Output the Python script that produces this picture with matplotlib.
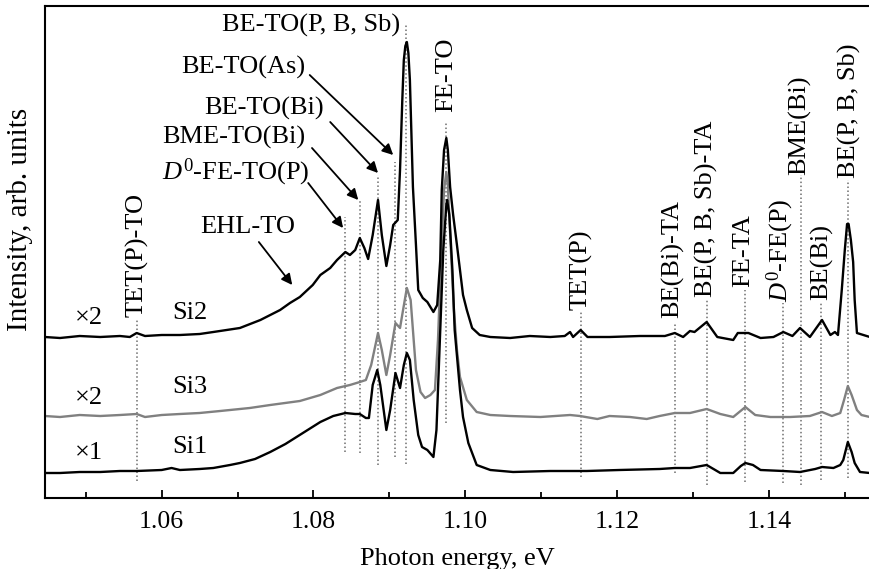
import matplotlib
matplotlib.use("Agg")
import matplotlib.pyplot as plt
from matplotlib.ticker import MultipleLocator

plt.rcParams['font.family'] = ['Liberation Serif', 'DejaVu Serif']
plt.rcParams['mathtext.fontset'] = 'custom'
plt.rcParams['mathtext.rm'] = 'Liberation Serif'
plt.rcParams['mathtext.it'] = 'Liberation Serif:italic'

# ---------------- data (photon energy, eV ; intensity, arb. units) ----------------
si2_E = [1.0446, 1.0466, 1.0492, 1.0519, 1.0545, 1.0558, 1.0567, 1.0578, 1.0600, 1.0624,
         1.0650, 1.0668, 1.0703, 1.0730, 1.0756, 1.0769, 1.0782, 1.0799, 1.0809, 1.0822,
         1.0831, 1.0842, 1.0848, 1.0855, 1.0861, 1.0867, 1.0872, 1.0878, 1.0885, 1.0890,
         1.0896, 1.0901, 1.0905, 1.0911, 1.0914, 1.0917, 1.0919, 1.0921, 1.0923, 1.0925,
         1.0927, 1.0931,
         1.0935, 1.0938, 1.0944, 1.0950, 1.0958, 1.0963, 1.0967, 1.0969, 1.0972, 1.0975,
         1.0977, 1.0980, 1.0984, 1.0989, 1.0997, 1.1002, 1.1009, 1.1019, 1.1033, 1.1059,
         1.1085, 1.1112, 1.1131, 1.1138, 1.1142, 1.1152, 1.1161, 1.1190, 1.1230, 1.1263,
         1.1276, 1.1287, 1.1296, 1.1302, 1.1318, 1.1332, 1.1353, 1.1359, 1.1373, 1.1389,
         1.1406, 1.1419, 1.1431, 1.1441, 1.1454, 1.1470, 1.1481, 1.1487, 1.1491, 1.1496,
         1.1500, 1.1503, 1.1505, 1.1508, 1.1511, 1.1513, 1.1516, 1.1533]
si2_I = [161, 160, 162, 161, 162, 161, 165, 162, 163, 163,
         164, 166, 170, 178, 188, 195, 201, 213, 223, 230,
         238, 246, 243, 248, 260, 250, 239, 263, 298, 263,
         232, 253, 273, 278, 328, 398, 438, 452, 456, 445,
         418, 311,
         253, 208, 200, 196, 186, 193, 238, 308, 348, 360,
         348, 311, 283, 253, 203, 188, 170, 163, 161, 160,
         162, 161, 162, 166, 161, 168, 161, 161, 162, 162,
         165, 161, 167, 166, 176, 161, 158, 165, 165, 160,
         161, 166, 162, 170, 161, 178, 163, 166, 163, 208,
         248, 274, 274, 258, 236, 198, 165, 161]

si3_E = [1.0446, 1.0466, 1.0492, 1.0519, 1.0545, 1.0567, 1.0578, 1.0600, 1.0624, 1.0650,
         1.0677, 1.0716, 1.0743, 1.0782, 1.0809, 1.0831, 1.0848, 1.0861, 1.0869, 1.0876,
         1.0885, 1.0890, 1.0896, 1.0901, 1.0908, 1.0914, 1.0918, 1.0923, 1.0928, 1.0935,
         1.0941, 1.0947, 1.0954, 1.0960, 1.0964, 1.0968, 1.0972, 1.0975, 1.0977, 1.0981,
         1.0985, 1.0989, 1.0993, 1.1002, 1.1015, 1.1033, 1.1059, 1.1099, 1.1138, 1.1151,
         1.1174, 1.1190, 1.1217, 1.1239, 1.1256, 1.1276, 1.1296, 1.1318, 1.1336, 1.1353,
         1.1369, 1.1382, 1.1402, 1.1428, 1.1454, 1.1470, 1.1483, 1.1494, 1.1499, 1.1504,
         1.1509, 1.1516, 1.1522, 1.1533]
si3_I = [82, 81, 83, 82, 83, 84, 81, 83, 84, 85,
         87, 90, 93, 97, 103, 110, 113, 116, 118, 133,
         165, 148, 123, 143, 175, 170, 188, 210, 198, 128,
         106, 100, 103, 108, 158, 238, 308, 326, 313, 248,
         188, 148, 121, 98, 86, 83, 82, 81, 83, 82,
         79, 82, 81, 79, 82, 85, 85, 89, 84, 81,
         91, 83, 81, 81, 82, 86, 82, 85, 98, 112,
         103, 88, 83, 81]

si1_E = [1.0446, 1.0466, 1.0492, 1.0519, 1.0545, 1.0567, 1.0600, 1.0613, 1.0624, 1.0650,
         1.0668, 1.0690, 1.0703, 1.0723, 1.0743, 1.0763, 1.0786, 1.0809, 1.0826, 1.0842,
         1.0855, 1.0861, 1.0869, 1.0873, 1.0878, 1.0884, 1.0888, 1.0896, 1.0901, 1.0908,
         1.0914, 1.0919, 1.0923, 1.0927, 1.0932, 1.0938, 1.0943, 1.0950, 1.0958, 1.0962,
         1.0967, 1.0971, 1.0975, 1.0976, 1.0979, 1.0983, 1.0986, 1.0993, 1.0997, 1.1004,
         1.1015, 1.1033, 1.1063, 1.1112, 1.1160, 1.1203, 1.1256, 1.1276, 1.1296, 1.1318,
         1.1336, 1.1353, 1.1363, 1.1369, 1.1379, 1.1389, 1.1419, 1.1441, 1.1461, 1.1470,
         1.1485, 1.1494, 1.1498, 1.1504, 1.1509, 1.1513, 1.1520, 1.1533]
si1_I = [25, 25, 26, 26, 27, 27, 28, 30, 28, 29,
         30, 33, 35, 39, 46, 54, 65, 76, 82, 85,
         84, 84, 80, 80, 113, 128, 113, 68, 88, 125,
         110, 133, 145, 138, 98, 63, 51, 48, 41, 68,
         168, 248, 293, 298, 283, 228, 168, 108, 81, 55,
         33, 28, 26, 27, 27, 28, 29, 30, 30, 33,
         25, 25, 32, 35, 33, 28, 27, 26, 29, 31,
         30, 33, 38, 56, 46, 35, 26, 25]

# line assignments (energies of the vertical dotted markers)
line_E = [1.0568, 1.0842, 1.0861, 1.0885, 1.0908, 1.0922, 1.0975, 1.1153,
          1.1276, 1.1318, 1.1369, 1.1419, 1.1442, 1.1469, 1.1504]
line_lo = [17, 46, 45, 33, 41, 34, 75, 21, 25, 13, 16, 15, 13, 18, 20]
line_hi = [178, 281, 298, 323, 336, 473, 376, 186, 175, 198, 208, 195, 323, 195, 318]

# vertical (rotated) labels
vlabels = ['TET(P)-TO', 'FE-TO', 'TET(P)', 'BE(Bi)-TA', 'BE(P, B, Sb)-TA', 'FE-TA',
           r'$\mathit{D}^{\mathrm{0}}$-FE(P)', 'BME(Bi)', 'BE(Bi)', 'BE(P, B, Sb)']
vlabel_E = [1.0568, 1.0975, 1.1153, 1.1273, 1.1318, 1.1366, 1.1415, 1.1440, 1.1470, 1.1506]
vlabel_I = [181, 386, 188, 180, 201, 211, 196, 323, 198, 320]

# horizontal labels with arrows
hlabels = ['BE-TO(P, B, Sb)', 'BE-TO(As)', 'BE-TO(Bi)', 'BME-TO(Bi)',
           r'$\mathit{D}^{\mathrm{0}}$-FE-TO(P)', 'EHL-TO']
hlabel_E = [1.0914, 1.0789, 1.0813, 1.0789, 1.0795, 1.0776]
hlabel_I = [473, 431, 390, 361, 326, 271]
arrow_from = [None, (1.0795, 423), (1.0822, 376), (1.0798, 350), (1.0793, 315), (1.0728, 256)]
arrow_to = [None, (1.0905, 343), (1.0885, 325), (1.0859, 298), (1.0839, 270), (1.0772, 213)]

# sample labels
samples = ['Si2', 'Si3', 'Si1']
factors = ['×2', '×2', '×1']
sample_I = [185, 111, 51]
factor_I = [180, 100, 45]

# ---------------- figure ----------------
fig = plt.figure(figsize=(8.7, 5.69), dpi=100)
ax = fig.add_axes([45/870, 1-498/569, 825/870, 492/569])

ax.set_xlim(1.044625, 1.15332)
ax.set_ylim(0, 492)

for E, lo, hi in zip(line_E, line_lo, line_hi):
    ax.plot([E, E], [lo, hi], color='#6e6e6e', lw=1.1, linestyle=(0, (1, 1.6)), zorder=1)

ax.plot(si2_E, si2_I, color='black', lw=1.7, zorder=3)
ax.plot(si3_E, si3_I, color='#808080', lw=1.7, zorder=2)
ax.plot(si1_E, si1_I, color='black', lw=1.7, zorder=3)

fs = 19
for lab, E, I in zip(vlabels, vlabel_E, vlabel_I):
    ax.text(E, I, lab, rotation=90, ha='center', va='bottom', fontsize=fs)

for lab, E, I, a0, a1 in zip(hlabels, hlabel_E, hlabel_I, arrow_from, arrow_to):
    ax.text(E, I, lab, ha='right', va='center', fontsize=fs)
    if a0 is not None:
        ax.annotate('', xy=a1, xytext=a0,
                    arrowprops=dict(arrowstyle='-|>', color='black', lw=1.3,
                                    mutation_scale=16, shrinkA=0, shrinkB=0))

for s, f, si, fi in zip(samples, factors, sample_I, factor_I):
    ax.text(1.0486, fi, f, ha='left', va='center', fontsize=fs)
    ax.text(1.0614, si, s, ha='left', va='center', fontsize=fs)

ax.xaxis.set_minor_locator(MultipleLocator(0.01))
ax.set_xticks([1.06, 1.08, 1.10, 1.12, 1.14])
ax.set_xticklabels(['1.06', '1.08', '1.10', '1.12', '1.14'], fontsize=18.5)
ax.tick_params(axis='x', which='major', direction='in', length=6, width=1.3, pad=9)
ax.tick_params(axis='x', which='minor', direction='in', length=4.5, width=1.3)
ax.set_yticks([])

for side in ['left', 'bottom', 'top']:
    ax.spines[side].set_linewidth(1.5)
ax.spines['right'].set_visible(False)

ax.set_xlabel('Photon energy, eV', fontsize=fs, labelpad=11)
ax.set_ylabel('Intensity, arb. units', fontsize=21)
ax.yaxis.set_label_coords(-0.015, 0.567)

fig.savefig('out.png', dpi=100)
